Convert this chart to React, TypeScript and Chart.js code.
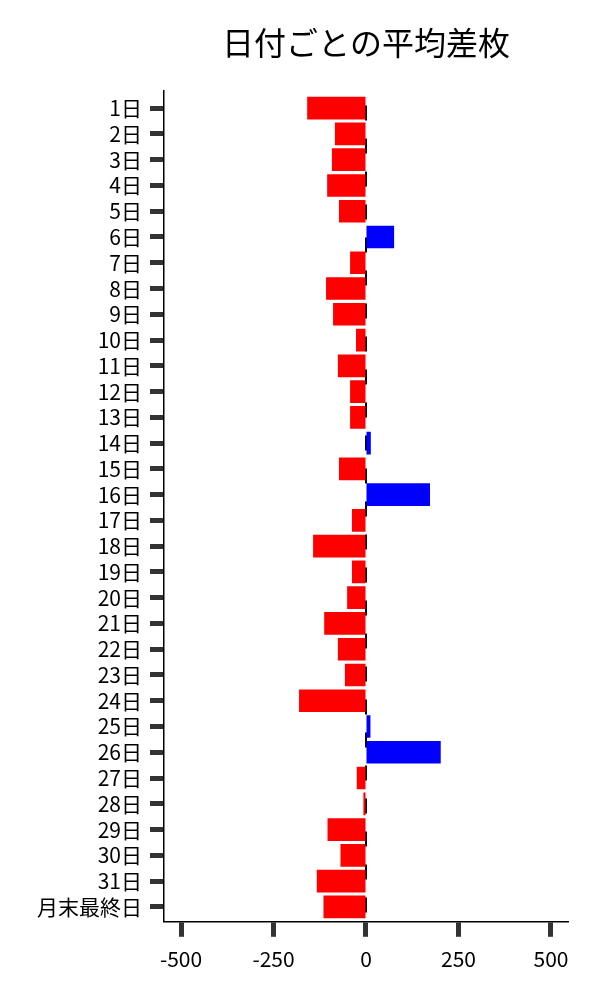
import React, { useEffect, useRef } from "react";
import { Chart, registerables } from "chart.js";

Chart.register(...registerables);

const TITLE = "日付ごとの平均差枚";
const CATEGORIES = [
  "1日", "2日", "3日", "4日", "5日", "6日", "7日", "8日", "9日", "10日",
  "11日", "12日", "13日", "14日", "15日", "16日", "17日", "18日", "19日", "20日",
  "21日", "22日", "23日", "24日", "25日", "26日", "27日", "28日", "29日", "30日",
  "31日", "月末最終日",
];
const VALUES = [
  -159, -84, -92, -105, -73, 76, -43, -108, -89, -27,
  -76, -43, -43, 13, -73, 173, -38, -143, -38, -51,
  -113, -76, -57, -181, 12, 202, -25, -7, -104, -69,
  -133, -115,
];
const X_TICKS = [-500, -250, 0, 250, 500];
const X_MIN = -546;
const X_MAX = 546;
const Y_MIN = -0.69;
const Y_MAX = 31.58;

const FONT = "'Noto Sans CJK JP', 'Noto Sans', sans-serif";

const zeroLinePlugin = {
  id: "zeroLine",
  beforeDatasetsDraw(chart: any) {
    const { ctx, chartArea, scales } = chart;
    const x = scales.x.getPixelForValue(0);
    ctx.save();
    ctx.strokeStyle = "#000";
    ctx.lineWidth = 2;
    ctx.setLineDash([15, 18]);
    ctx.lineDashOffset = 18;
    ctx.beginPath();
    ctx.moveTo(x, chartArea.top);
    ctx.lineTo(x, chartArea.bottom);
    ctx.stroke();
    ctx.restore();
  },
};

export default function App() {
  const ref = useRef<HTMLCanvasElement | null>(null);
  useEffect(() => {
    document.body.style.margin = "0";
    const chart = new Chart(ref.current!, {
      type: "bar",
      data: {
        datasets: [
          {
            data: VALUES.map((v, i) => ({ x: v, y: i })),
            backgroundColor: VALUES.map((v) => (v < 0 ? "#ff0000" : "#0000ff")),
            borderWidth: 0,
            barPercentage: 0.88,
            categoryPercentage: 1,
          },
        ],
      },
      options: {
        indexAxis: "y",
        animation: false,
        responsive: false,
        layout: { padding: { left: 29, right: 32, top: 22, bottom: 18 } },
        plugins: {
          legend: { display: false },
          tooltip: { enabled: false },
          title: {
            display: true,
            text: TITLE,
            fullSize: false,
            color: "#000",
            font: { family: FONT, size: 32, weight: "normal" },
            padding: { top: 2, bottom: 28 },
          },
        },
        scales: {
          x: {
            type: "linear",
            min: X_MIN,
            max: X_MAX,
            afterBuildTicks: (scale: any) => {
              scale.ticks = X_TICKS.map((v) => ({ value: v }));
            },
            grid: {
              drawOnChartArea: false,
              drawTicks: true,
              tickLength: 15,
              tickWidth: 5,
              tickColor: "#333",
            },
            border: { display: true, color: "#000", width: 1.5 },
            ticks: {
              color: "#000",
              padding: 10,
              font: { family: FONT, size: 21 },
              maxRotation: 0,
            },
          },
          y: {
            type: "linear",
            reverse: true,
            min: Y_MIN,
            max: Y_MAX,
            offset: false,
            afterBuildTicks: (scale: any) => {
              scale.ticks = CATEGORIES.map((_, i) => ({ value: i }));
            },
            grid: {
              offset: false,
              drawOnChartArea: false,
              drawTicks: true,
              tickLength: 14,
              tickWidth: 5,
              tickColor: "#333",
            },
            border: { display: true, color: "#000", width: 1.5 },
            ticks: {
              color: "#000",
              padding: 8,
              autoSkip: false,
              font: { family: FONT, size: 21 },
              callback: (v: any) => CATEGORIES[Math.round(Number(v))] ?? "",
            },
          },
        },
      },
      plugins: [zeroLinePlugin],
    } as any);
    return () => chart.destroy();
  }, []);
  return (
    <div style={{ position: "absolute", left: 0, top: 0, width: 600, height: 1000 }}>
      <canvas ref={ref} width={600} height={1000} style={{ width: 600, height: 1000 }} />
    </div>
  );
}
